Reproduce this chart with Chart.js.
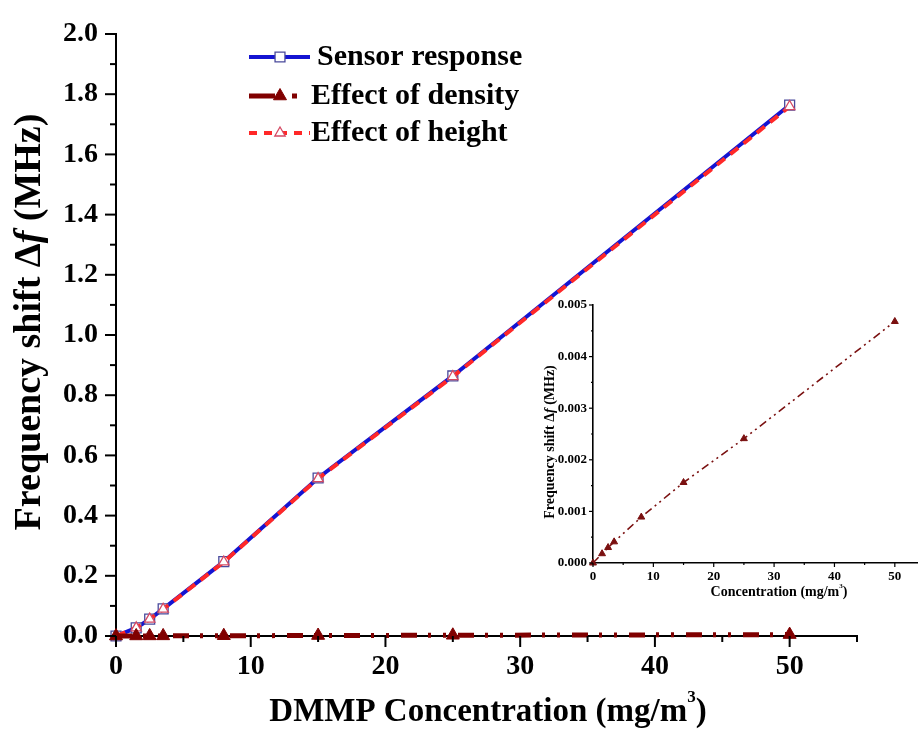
<!DOCTYPE html>
<html lang="en">
<head>
<meta charset="UTF-8">
<title>DMMP sensor response</title>
<style>
  html, body { margin: 0; padding: 0; background: #fff; overflow: hidden; }
  #wrap { position: relative; width: 918px; height: 735px; overflow: hidden; }
  #mainChart { position: absolute; left: 0; top: 0; }
  #insetChart { position: absolute; left: 520px; top: 290px; }
</style>
</head>
<body>
<div id="wrap">
  <canvas id="mainChart" width="918" height="735"></canvas>
  <canvas id="insetChart" width="410" height="320"></canvas>
</div>
<script src="https://cdn.jsdelivr.net/npm/chart.js"></script>
<script>
// DMMP concentration (mg/m3)
const concentration = [0, 1.5, 2.5, 3.5, 8, 15, 25, 50];
// frequency shift (MHz)
const sensorResponse = [0, 0.027, 0.056, 0.09, 0.247, 0.525, 0.864, 1.764];
const heightEffect = [0, 0.027, 0.056, 0.089, 0.246, 0.523, 0.862, 1.759];
const densityEffect = [0, 0.00018, 0.0003, 0.00041, 0.00089, 0.00156, 0.00241, 0.00468];

const seriesNames = ['Sensor response', 'Effect of density', 'Effect of height'];

// labelled ticks
const mainXLabels = [0, 10, 20, 30, 40, 50];
const mainYLabels = [0, 0.2, 0.4, 0.6, 0.8, 1.0, 1.2, 1.4, 1.6, 1.8, 2.0];
const insetXLabels = [0, 10, 20, 30, 40, 50];
const insetYLabels = [0, 0.001, 0.002, 0.003, 0.004, 0.005];

const FONT = '"Liberation Serif", "Times New Roman", serif';

function pts(ys) {
  return concentration.map((x, i) => ({ x: x, y: ys[i] }));
}

function isLabel(list, v) {
  return list.some(l => Math.abs(l - v) < 1e-9);
}

// draw a line of text made of parts (italic / superscript), centred on cx, cy
function drawRich(ctx, parts, cx, cy, size, angle) {
  ctx.save();
  ctx.translate(cx, cy);
  ctx.rotate(angle || 0);
  ctx.textBaseline = 'middle';
  ctx.textAlign = 'left';
  ctx.fillStyle = '#000';
  const fontOf = p => (p.italic ? 'italic ' : '') + 'bold ' + (p.sup ? Math.round(size * 0.5) : size) + 'px ' + FONT;
  let total = 0;
  parts.forEach(p => { ctx.font = fontOf(p); total += ctx.measureText(p.text).width; });
  let x = -total / 2;
  parts.forEach(p => {
    ctx.font = fontOf(p);
    ctx.fillText(p.text, x, p.sup ? -size * 0.45 : 0);
    x += ctx.measureText(p.text).width;
  });
  ctx.restore();
}

const decor = {
  id: 'decor',
  afterDraw(chart, args, o) {
    const ctx = chart.ctx;
    const xs = chart.scales.x, ys = chart.scales.y;
    ctx.save();
    ctx.strokeStyle = '#000';
    ctx.lineWidth = o.tickWidth;
    xs.ticks.forEach(t => {
      const px = xs.getPixelForValue(t.value);
      const len = t.label !== '' ? o.major : o.minor;
      ctx.beginPath(); ctx.moveTo(px, xs.top); ctx.lineTo(px, xs.top + len); ctx.stroke();
    });
    ys.ticks.forEach(t => {
      const py = ys.getPixelForValue(t.value);
      const len = t.label !== '' ? o.major : o.minor;
      ctx.beginPath(); ctx.moveTo(ys.right, py); ctx.lineTo(ys.right - len, py); ctx.stroke();
    });
    ctx.restore();

    drawRich(ctx, o.xTitle.parts, o.xTitle.x, o.xTitle.y, o.xTitle.size, 0);
    drawRich(ctx, o.yTitle.parts, o.yTitle.x, o.yTitle.y, o.yTitle.size, -Math.PI / 2);

    if (o.legend) {
      o.legend.rows.forEach(r => {
        const ds = chart.data.datasets[r.dataset];
        ctx.save();
        ctx.strokeStyle = ds.borderColor;
        ctx.lineWidth = ds.borderWidth;
        ctx.setLineDash(r.dash);
        ctx.beginPath(); ctx.moveTo(r.x0, r.y); ctx.lineTo(r.x1, r.y); ctx.stroke();
        ctx.setLineDash([]);
        ctx.fillStyle = ds.pointBackgroundColor;
        ctx.strokeStyle = ds.pointBorderColor;
        ctx.lineWidth = ds.pointBorderWidth;
        Chart.helpers.drawPoint(ctx, {
          pointStyle: ds.pointStyle, radius: r.radius, borderWidth: ds.pointBorderWidth, rotation: 0
        }, r.mx, r.y);
        ctx.fillStyle = '#000';
        ctx.font = 'bold ' + o.legend.size + 'px ' + FONT;
        ctx.textBaseline = 'middle';
        ctx.fillText(seriesNames[r.dataset], r.tx, r.y);
        ctx.restore();
      });
    }
  }
};

// main chart
new Chart(document.getElementById('mainChart'), {
  type: 'line',
  data: {
    datasets: [
      {
        label: seriesNames[0],
        data: pts(sensorResponse),
        borderColor: '#1414d2',
        borderWidth: 4,
        pointStyle: 'rect',
        pointRadius: 7,
        pointBorderWidth: 1.3,
        pointBackgroundColor: '#ffffff',
        pointBorderColor: '#4a4a9c',
        order: 3
      },
      {
        label: seriesNames[1],
        data: pts(densityEffect),
        borderColor: '#800000',
        borderWidth: 5,
        borderDash: [16, 11, 3, 12, 3, 12],
        pointStyle: 'triangle',
        pointRadius: 7.5,
        pointBorderWidth: 1,
        pointBackgroundColor: '#800000',
        pointBorderColor: '#800000',
        order: 1
      },
      {
        label: seriesNames[2],
        data: pts(heightEffect),
        borderColor: '#ff2828',
        borderWidth: 4,
        borderDash: [10, 7],
        pointStyle: 'triangle',
        pointRadius: 6,
        pointBorderWidth: 1.3,
        pointBackgroundColor: '#ffffff',
        pointBorderColor: '#d44a64',
        order: 2
      }
    ]
  },
  options: {
    responsive: false,
    animation: false,
    clip: false,
    layout: { padding: { top: 34, right: 61, left: 0, bottom: 0 } },
    plugins: {
      legend: { display: false },
      tooltip: { enabled: false },
      decor: {
        tickWidth: 2, major: 11, minor: 6,
        xTitle: { x: 488, y: 712, size: 33, parts: [{ text: 'DMMP Concentration (mg/m' }, { text: '3', sup: true }, { text: ')' }] },
        yTitle: { x: 30, y: 322, size: 38, parts: [{ text: 'Frequency shift \u0394' }, { text: 'f', italic: true }, { text: ' (MHz)' }] },
        legend: {
          size: 30,
          rows: [
            { dataset: 0, y: 57, x0: 249, x1: 310, dash: [], mx: 280, radius: 7, tx: 317 },
            { dataset: 1, y: 96, x0: 249, x1: 297, dash: [26, 17, 5, 60], mx: 280, radius: 7.5, tx: 311 },
            { dataset: 2, y: 133, x0: 249, x1: 310, dash: [8, 7], mx: 280, radius: 6, tx: 311 }
          ]
        }
      }
    },
    scales: {
      x: {
        type: 'linear', min: 0, max: 55,
        afterFit: s => { s.height = 99; },
        grid: { display: true, drawOnChartArea: false, drawTicks: true, tickLength: 11, tickColor: 'rgba(0,0,0,0)' },
        border: { display: true, color: '#000', width: 2 },
        ticks: {
          stepSize: 5, autoSkip: false, maxRotation: 0, padding: 3, color: '#000',
          font: { family: FONT, size: 28, weight: 'bold' },
          callback: v => isLabel(mainXLabels, v) ? String(v) : ''
        }
      },
      y: {
        type: 'linear', min: 0, max: 2.0,
        afterFit: s => { s.width = 116; },
        grid: { display: true, drawOnChartArea: false, drawTicks: true, tickLength: 11, tickColor: 'rgba(0,0,0,0)' },
        border: { display: true, color: '#000', width: 2 },
        ticks: {
          stepSize: 0.1, autoSkip: false, padding: 7, color: '#000',
          font: { family: FONT, size: 28, weight: 'bold' },
          callback: v => isLabel(mainYLabels, v) ? v.toFixed(1) : ''
        }
      }
    }
  },
  plugins: [decor]
});

// inset chart
new Chart(document.getElementById('insetChart'), {
  type: 'line',
  data: {
    datasets: [{
      label: seriesNames[1],
      data: pts(densityEffect),
      borderColor: '#7a1010',
      borderWidth: 1.6,
      borderDash: [8, 4, 2, 4, 2, 4],
      pointStyle: 'triangle',
      pointRadius: 4,
      pointBorderWidth: 1,
      pointBackgroundColor: '#7a1010',
      pointBorderColor: '#7a1010'
    }]
  },
  options: {
    responsive: false,
    animation: false,
    clip: false,
    layout: { padding: { top: 15, right: 4, left: 0, bottom: 0 } },
    plugins: {
      legend: { display: false },
      tooltip: { enabled: false },
      decor: {
        tickWidth: 1.2, major: 4, minor: 2,
        xTitle: { x: 259, y: 302, size: 14, parts: [{ text: 'Concentration (mg/m' }, { text: '3', sup: true }, { text: ')' }] },
        yTitle: { x: 30, y: 152, size: 14, parts: [{ text: 'Frequency shift \u0394' }, { text: 'f', italic: true }, { text: ' (MHz)' }] }
      }
    },
    scales: {
      x: {
        type: 'linear', min: 0, max: 55,
        afterFit: s => { s.height = 47; },
        grid: { display: true, drawOnChartArea: false, drawTicks: true, tickLength: 4, tickColor: 'rgba(0,0,0,0)' },
        border: { display: true, color: '#000', width: 1.6 },
        ticks: {
          stepSize: 5, autoSkip: false, maxRotation: 0, padding: 2, color: '#000',
          font: { family: FONT, size: 13, weight: 'bold' },
          callback: v => isLabel(insetXLabels, v) ? String(v) : ''
        }
      },
      y: {
        type: 'linear', min: 0, max: 0.005,
        afterFit: s => { s.width = 73; },
        grid: { display: true, drawOnChartArea: false, drawTicks: true, tickLength: 4, tickColor: 'rgba(0,0,0,0)' },
        border: { display: true, color: '#000', width: 1.6 },
        ticks: {
          stepSize: 0.0005, autoSkip: false, padding: 2, color: '#000',
          font: { family: FONT, size: 13, weight: 'bold' },
          callback: v => isLabel(insetYLabels, v) ? v.toFixed(3) : ''
        }
      }
    }
  },
  plugins: [decor]
});
</script>
</body>
</html>
